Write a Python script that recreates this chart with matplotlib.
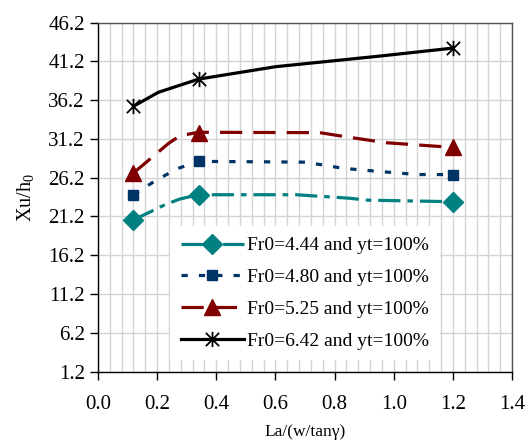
import matplotlib
matplotlib.use("Agg")
import matplotlib.pyplot as plt
from matplotlib.path import Path
from matplotlib.ticker import MultipleLocator
import numpy as np

plt.rcParams['font.family'] = ['Liberation Serif', 'DejaVu Serif']
plt.rcParams['mathtext.fontset'] = 'custom'
plt.rcParams['mathtext.rm'] = 'Liberation Serif'
plt.rcParams['mathtext.it'] = 'Liberation Serif:italic'
plt.rcParams['lines.scale_dashes'] = False

# marker positions (data points)
x_pts = [0.12, 0.34, 1.2]
y_444 = [20.75, 24.0, 23.1]
y_480 = [24.0, 28.3, 26.6]
y_525 = [26.8, 32.0, 30.1]
y_642 = [35.4, 38.9, 42.9]

# line traces (as drawn in the original)
x_l444 = [0.12, 0.226, 0.277, 0.34, 0.67, 0.85, 0.91, 1.2]
y_l444 = [20.75, 22.7, 23.45, 24.0, 24.0, 23.55, 23.3, 23.1]
x_l480 = [0.12, 0.198, 0.271, 0.34, 0.70, 0.83, 0.95, 1.08, 1.2]
y_l480 = [24.0, 25.9, 27.4, 28.3, 28.2, 27.4, 27.0, 26.6, 26.6]
x_l525 = [0.12, 0.238, 0.277, 0.34, 0.75, 0.85, 0.975, 1.2]
y_l525 = [26.8, 30.6, 31.6, 32.05, 32.0, 31.4, 30.7, 30.1]
x_l642 = [0.12, 0.204, 0.34, 0.6, 0.96, 1.2]
y_l642 = [35.4, 37.2, 38.9, 40.5, 41.9, 42.9]

labels = ["Fr0=4.44 and yt=100%", "Fr0=4.80 and yt=100%",
          "Fr0=5.25 and yt=100%", "Fr0=6.42 and yt=100%"]
colors = ["#008080", "#003366", "#800000", "#000000"]

# asterisk marker: X plus vertical
star = Path([(-1, -1), (1, 1), (-1, 1), (1, -1), (0, -1.15), (0, 1.15)],
            [Path.MOVETO, Path.LINETO, Path.MOVETO, Path.LINETO, Path.MOVETO, Path.LINETO])

fig = plt.figure(figsize=(5.28, 4.47), dpi=100)
ax = fig.add_axes([98/528, 1-371.6/447, 414/528, 349.1/447])

styles = [
    dict(dashes=(16, 5, 4, 5), marker='D', ms=10.5, lw=2.3),
    dict(dashes=(4.5, 8), marker='s', ms=7, lw=2.3),
    dict(dashes=(16, 8), marker='^', ms=12, lw=2.3),
    dict(dashes=None, marker=star, ms=11, lw=2.3),
]
lines_x = [x_l444, x_l480, x_l525, x_l642]
lines_y = [y_l444, y_l480, y_l525, y_l642]
pts_y = [y_444, y_480, y_525, y_642]

handles = []
for lx, ly, py, c, st, lab in zip(lines_x, lines_y, pts_y, colors, styles, labels):
    ln, = ax.plot(lx, ly, color=c, lw=st['lw'], zorder=3)
    if st['dashes'] is not None:
        ln.set_dashes(st['dashes'])
    mk = st['marker']
    if mk is star:
        ax.plot(x_pts, py, linestyle='none', marker=mk, ms=st['ms'], mfc='none',
                mec=c, mew=1.3, zorder=4)
        h, = ax.plot([], [], color=c, lw=st['lw'], marker=mk, ms=st['ms'],
                     mfc='none', mec=c, mew=1.3)
    else:
        ax.plot(x_pts, py, linestyle='none', marker=mk, ms=st['ms'], mfc=c,
                mec=c, zorder=4)
        h, = ax.plot([], [], color=c, lw=st['lw'], marker=mk, ms=st['ms'],
                     mfc=c, mec=c)
    if st['dashes'] is not None:
        h.set_dashes(st['dashes'])
    handles.append(h)

ax.set_xlim(0, 1.4)
ax.set_ylim(1.2, 46.2)
ax.xaxis.set_minor_locator(MultipleLocator(0.04))
yt = np.arange(1.2, 46.3, 5.0)
ax.set_yticks(yt)
ax.set_yticklabels([f"{v:.1f}" for v in yt])
xt = np.arange(0, 1.41, 0.2)
ax.set_xticks(xt)
ax.set_xticklabels([f"{v:.1f}" for v in xt])

ax.grid(which='both', axis='x', color='#d4d4d4', lw=1.0)
ax.grid(which='major', axis='y', color='#d4d4d4', lw=1.0)
ax.set_axisbelow(True)
ax.tick_params(which='major', direction='out', length=6, width=1, labelsize=15)
ax.tick_params(axis='y', pad=3.5)
ax.tick_params(axis='x', pad=11)
ax.tick_params(which='minor', length=0)

for s in ['left', 'bottom']:
    ax.spines[s].set_color('black')
    ax.spines[s].set_linewidth(1.0)
for s in ['top', 'right']:
    ax.spines[s].set_color('#555555')
    ax.spines[s].set_linewidth(1.0)

ax.set_xlabel("La/(w/tan\u03b3)", fontsize=12.5, labelpad=7)
ax.set_ylabel("Xu/h$_0$", fontsize=14.5, labelpad=9)

leg = ax.legend(handles, labels, loc='upper left', bbox_to_anchor=(0.174, 0.417),
                borderaxespad=0, fontsize=14, handlelength=3.25, handletextpad=0.15,
                labelspacing=0.73, borderpad=0.55, frameon=True, fancybox=False,
                framealpha=1, facecolor='white', edgecolor='none', numpoints=1)

fig.savefig("out.png", dpi=100)
